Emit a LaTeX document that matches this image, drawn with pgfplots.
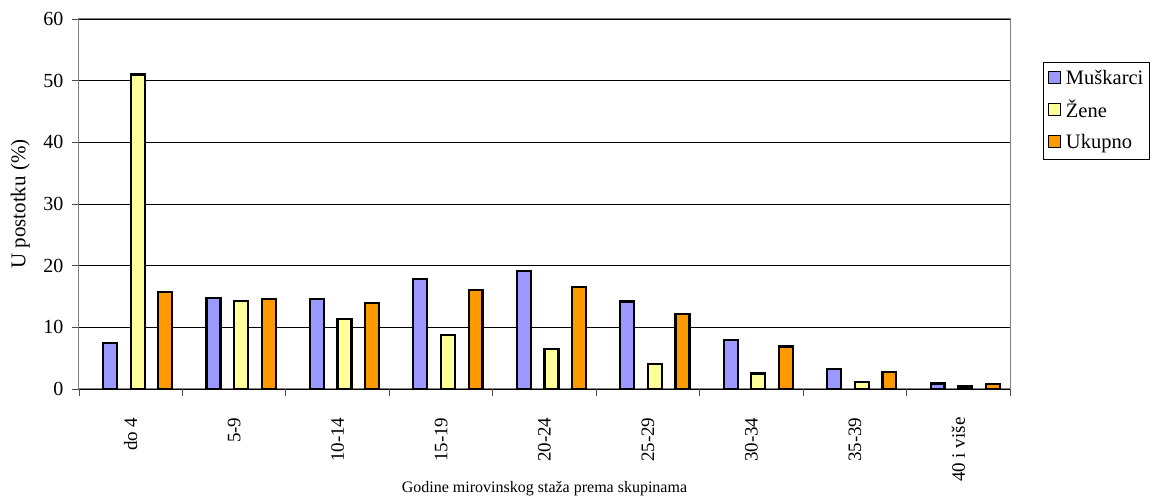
\documentclass[border=0pt]{standalone}
\usepackage{pgfplots}
\pgfplotsset{compat=1.18}
\usepackage{fontspec}
\setmainfont{Liberation Serif}
\definecolor{muski}{HTML}{9999FF}
\definecolor{zene}{HTML}{FFFF99}
\definecolor{ukupno}{HTML}{FF9900}
\begin{document}
\fontsize{19}{22}\selectfont
\begin{tikzpicture}
\begin{axis}[
    name=ax,
    scale only axis,
    width=931pt, height=370pt,
    xmin=-0.5, xmax=8.5,
    ymin=0, ymax=60,
    ytick={0,10,...,60},
    xtick={0,...,8},
    xticklabels={do 4,5-9,10-14,15-19,20-24,25-29,30-34,35-39,40 i više},
    minor xtick={-0.5,0.5,...,8.5},
    major x tick style={draw=none},
    tick align=outside,
    xtick pos=bottom, ytick pos=left,
    major tick length=7pt, minor tick length=7pt,
    tick style={black!70, line width=0.8pt},
    x tick label style={rotate=90, anchor=east, xshift=-15pt, font=\fontsize{19}{22}\selectfont},
    y tick label style={font=\fontsize{20}{22}\selectfont, xshift=-2pt},
    ymajorgrids,
    major grid style={black, line width=0.7pt},
    axis line style={black!50, line width=1pt},
    /pgf/number format/assume math mode=true,
    ylabel={U postotku (\%)},
    ylabel style={at={(axis description cs:-0.063,0.5)}, anchor=center, font=\fontsize{21}{24}\selectfont},
    xlabel={Godine mirovinskog staža prema skupinama},
    xlabel style={at={(axis description cs:0.5,-0.281)}, anchor=base, font=\fontsize{16}{19}\selectfont},
    legend style={at={(rel axis cs:1.0354,0.884)}, anchor=north west,
        draw=black, line width=0.6pt, row sep=9pt, inner xsep=4pt, inner ysep=6pt,
        font=\fontsize{20.5}{23}\selectfont, cells={anchor=west}},
    legend image code/.code={\path (0pt,0pt) (14.5pt,0pt);
        \draw[#1, line width=1.4pt] (0pt,-5pt) rectangle (12pt,7pt);},
]
\addplot[ybar, bar width=0.135, bar shift=-0.2, fill=muski, draw=black, line width=2.2pt]
  coordinates {(0,7.4) (1,14.7) (2,14.6) (3,17.9) (4,19.1) (5,14.2) (6,8.0) (7,3.2) (8,0.9)};
\addlegendentry{Muškarci}
\addplot[ybar, bar width=0.135, bar shift=0.067, fill=zene, draw=black, line width=2.2pt]
  coordinates {(0,51.0) (1,14.3) (2,11.3) (3,8.8) (4,6.5) (5,4.1) (6,2.5) (7,1.1) (8,0.4)};
\addlegendentry{Žene}
\addplot[ybar, bar width=0.135, bar shift=0.334, fill=ukupno, draw=black, line width=2.2pt]
  coordinates {(0,15.7) (1,14.6) (2,13.9) (3,16.1) (4,16.6) (5,12.2) (6,6.9) (7,2.7) (8,0.8)};
\addlegendentry{Ukupno}
\end{axis}
\pgfresetboundingbox
\path ([shift={(-79pt,-110pt)}]ax.south west) rectangle ([shift={(144pt,19pt)}]ax.north east);
\end{tikzpicture}
\end{document}
